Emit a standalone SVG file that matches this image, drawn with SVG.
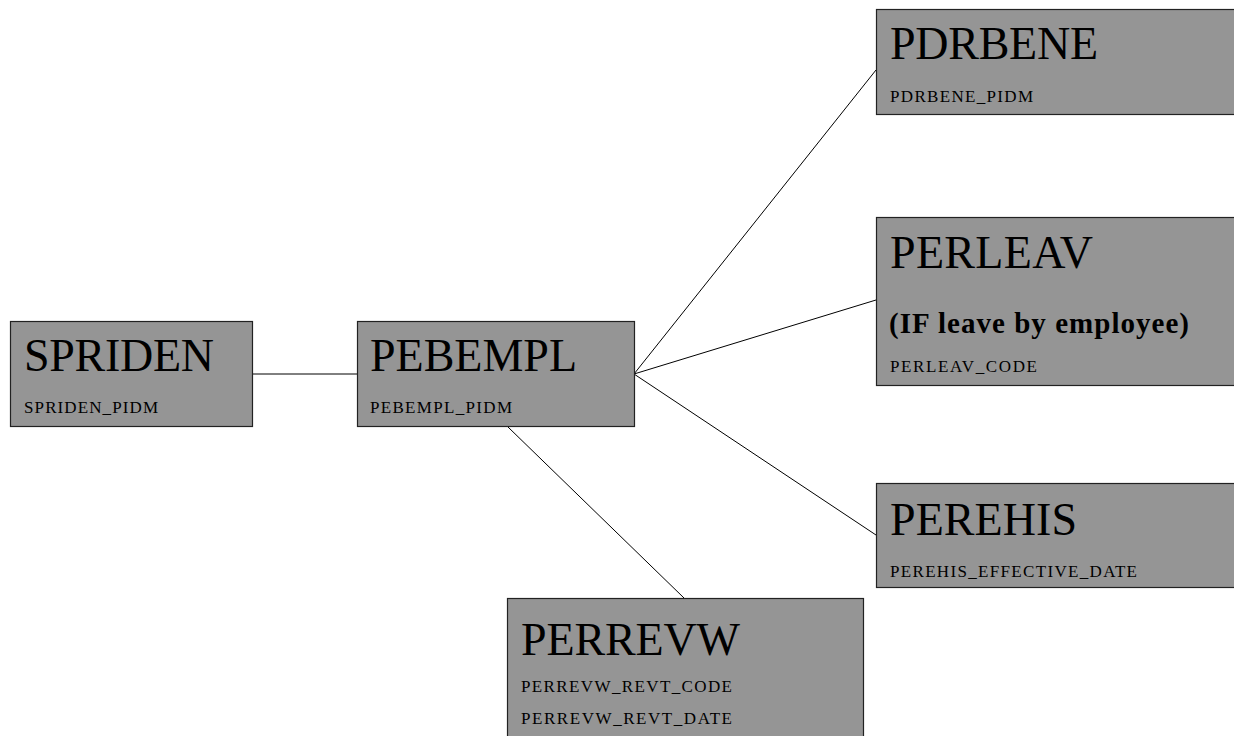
<svg xmlns="http://www.w3.org/2000/svg" width="1234" height="736" viewBox="0 0 1234 736">
  <style>
    .box { fill: #959595; stroke: #222; stroke-width: 1.2; }
    .title { font-family: "Liberation Serif", "Times New Roman", serif; font-size: 46px; fill: #000; }
    .field { font-family: "Liberation Serif", "Times New Roman", serif; font-size: 17px; fill: #000; }
    .note { font-family: "Liberation Serif", "Times New Roman", serif; font-size: 29px; font-weight: bold; fill: #000; }
    .link { stroke: #000; stroke-width: 1; fill: none; }
  </style>
  <rect width="1234" height="736" fill="#fff"/>

  <!-- relationships -->
  <g id="connectors">
    <line class="link" x1="252" y1="374" x2="357" y2="374"/>
    <line class="link" x1="634" y1="374" x2="876" y2="70"/>
    <line class="link" x1="634" y1="374" x2="876" y2="300"/>
    <line class="link" x1="634" y1="374" x2="876" y2="535"/>
    <line class="link" x1="508" y1="427" x2="684" y2="598"/>
  </g>

  <g id="spriden">
    <rect class="box" x="10.5" y="321.5" width="242" height="105"/>
    <text class="title" x="24" y="371" textLength="190" lengthAdjust="spacing">SPRIDEN</text>
    <text class="field" x="24" y="413" textLength="134" lengthAdjust="spacing">SPRIDEN_PIDM</text>
  </g>

  <g id="pebempl">
    <rect class="box" x="357.5" y="321.5" width="277" height="105"/>
    <text class="title" x="370" y="371" textLength="207" lengthAdjust="spacing">PEBEMPL</text>
    <text class="field" x="370" y="413" textLength="142" lengthAdjust="spacing">PEBEMPL_PIDM</text>
  </g>

  <g id="pdrbene">
    <rect class="box" x="876.5" y="9.5" width="362" height="105"/>
    <text class="title" x="890" y="59" textLength="208" lengthAdjust="spacing">PDRBENE</text>
    <text class="field" x="890" y="102" textLength="143" lengthAdjust="spacing">PDRBENE_PIDM</text>
  </g>

  <g id="perleav">
    <rect class="box" x="876.5" y="217.5" width="362" height="168"/>
    <text class="title" x="890" y="268" textLength="203" lengthAdjust="spacing">PERLEAV</text>
    <text class="note" x="889" y="333" textLength="300" lengthAdjust="spacing">(IF leave by employee)</text>
    <text class="field" x="890" y="372" textLength="147" lengthAdjust="spacing">PERLEAV_CODE</text>
  </g>

  <g id="perehis">
    <rect class="box" x="876.5" y="483.5" width="362" height="104"/>
    <text class="title" x="890" y="535" textLength="187" lengthAdjust="spacing">PEREHIS</text>
    <text class="field" x="890" y="577" textLength="247" lengthAdjust="spacing">PEREHIS_EFFECTIVE_DATE</text>
  </g>

  <g id="perrevw">
    <rect class="box" x="507.5" y="598.5" width="356" height="145"/>
    <text class="title" x="521" y="655" textLength="219" lengthAdjust="spacing">PERREVW</text>
    <text class="field" x="521" y="692" textLength="211" lengthAdjust="spacing">PERREVW_REVT_CODE</text>
    <text class="field" x="521" y="724" textLength="211" lengthAdjust="spacing">PERREVW_REVT_DATE</text>
  </g>
</svg>
